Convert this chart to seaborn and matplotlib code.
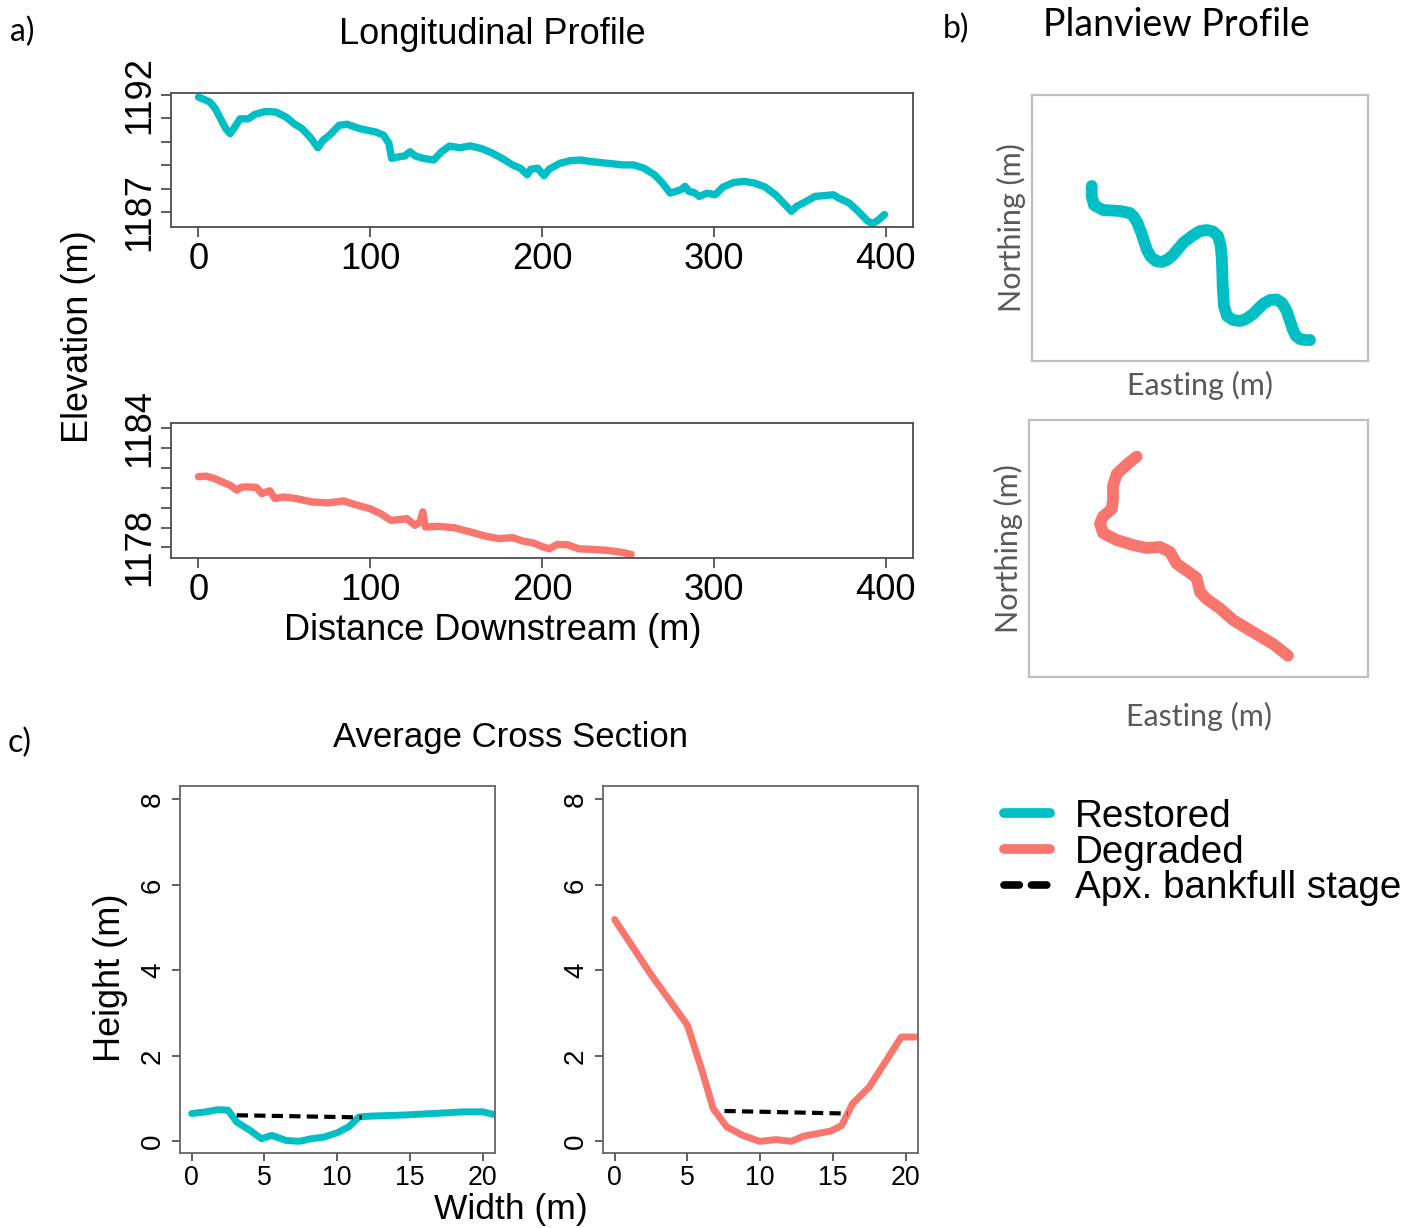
import numpy as np
import pandas as pd
import matplotlib
matplotlib.use("Agg")
import matplotlib.pyplot as plt
import seaborn as sns
from matplotlib import font_manager as fm
from matplotlib.lines import Line2D

# ---------------- data ----------------
# a) longitudinal profiles
rest_dist = [0, 3.7, 6.7, 9.8, 12.9, 15.9, 18.4, 20.5, 24.2, 29.1, 32.8, 38.9, 45.0, 51.1, 55.7,
             60.3, 64.9, 69.5, 72.6, 76.3, 81.8, 86.4, 94.0, 103.2, 107.8, 110.9, 112.4, 117.0,
             120.1, 123.2, 126.2, 130.8, 137.0, 141.5, 146.1, 152.2, 158.3, 164.5, 170.6, 176.7,
             182.8, 187.4, 191.4, 193.5, 197.5, 201.2, 204.2, 210.4, 216.5, 222.7, 228.8, 238.0,
             247.2, 253.3, 259.4, 265.5, 270.1, 274.7, 277.8, 280.9, 283.3, 285.5, 288.5, 291.6,
             296.2, 300.8, 305.4, 311.5, 317.6, 323.7, 329.9, 336.0, 340.6, 345.2, 348.3, 352.8,
             359.0, 363.5, 369.7, 372.7, 378.9, 385.0, 389.6, 392.6, 395.7, 399.4]
rest_elev = [1191.89, 1191.78, 1191.68, 1191.40, 1190.97, 1190.55, 1190.34, 1190.55, 1190.97,
             1190.97, 1191.16, 1191.28, 1191.26, 1191.04, 1190.76, 1190.55, 1190.20, 1189.74,
             1190.06, 1190.27, 1190.69, 1190.74, 1190.55, 1190.41, 1190.27, 1189.92, 1189.29,
             1189.36, 1189.39, 1189.57, 1189.39, 1189.29, 1189.22, 1189.57, 1189.81, 1189.74,
             1189.82, 1189.71, 1189.53, 1189.29, 1189.01, 1188.87, 1188.59, 1188.83, 1188.87,
             1188.55, 1188.83, 1189.08, 1189.19, 1189.22, 1189.15, 1189.08, 1189.01, 1189.01,
             1188.87, 1188.59, 1188.24, 1187.81, 1187.88, 1187.96, 1188.10, 1187.88, 1187.84,
             1187.67, 1187.81, 1187.74, 1188.07, 1188.26, 1188.31, 1188.24, 1188.07, 1187.74,
             1187.39, 1187.04, 1187.25, 1187.42, 1187.67, 1187.70, 1187.74, 1187.60, 1187.39,
             1186.97, 1186.62, 1186.52, 1186.66, 1186.90]
degr_dist = [0, 4.6, 9.2, 13.8, 18.4, 22.4, 24.6, 27.6, 33.8, 36.9, 41.5, 44.5, 49.2, 56.8, 66.1,
             75.3, 84.5, 90.6, 99.8, 106.0, 112.1, 116.7, 121.3, 126.0, 129.0, 130.6, 132.1,
             139.8, 149.0, 158.2, 167.4, 175.1, 182.8, 188.9, 195.1, 199.7, 204.3, 208.9, 215.1,
             221.2, 228.9, 238.1, 245.8, 251.9]
degr_elev = [1181.56, 1181.59, 1181.47, 1181.30, 1181.13, 1180.88, 1181.02, 1181.05, 1181.02,
             1180.71, 1180.85, 1180.46, 1180.54, 1180.46, 1180.29, 1180.24, 1180.34, 1180.17,
             1179.95, 1179.70, 1179.36, 1179.40, 1179.45, 1179.11, 1179.28, 1179.79, 1179.03,
             1179.06, 1178.99, 1178.78, 1178.56, 1178.44, 1178.49, 1178.32, 1178.22, 1178.05,
             1177.93, 1178.15, 1178.13, 1177.93, 1177.90, 1177.85, 1177.76, 1177.65]

# b) planview (relative easting / northing, m)
rest_east = [59.7, 59.7, 62, 71, 88, 98, 102, 105.5, 109, 112, 115, 119, 124, 129.7, 135, 141,
             151, 160, 168, 175, 181, 186, 188.5, 189.7, 190.2, 190.7, 192, 195, 201, 208, 214,
             221, 231, 238, 244.7, 250, 254.7, 258, 261, 264, 268, 273, 278]
rest_north = [175, 165, 156, 151, 150, 148, 144, 138, 129, 120, 111, 104, 100, 99, 101, 106,
              118, 125, 130, 131, 129.5, 125, 116, 104, 92, 75, 55, 45, 41, 40, 42, 47, 57, 61,
              61.5, 58, 50, 40, 31, 25, 22, 21, 21]
degr_east = [107.7, 97.7, 87.7, 84, 84, 82.7, 74, 71, 74, 87.7, 104, 117.7, 131, 141, 147.7,
             161, 167.7, 171, 177.7, 191, 204, 224, 244, 259]
degr_north = [220.4, 212.4, 203, 191, 177, 168, 160.5, 153.4, 144, 137, 132, 129, 130, 125,
              113.3, 104, 99, 85, 78, 68.5, 57, 45, 33, 21.3]

# c) average cross sections
rest_w = [0, 1.0, 1.77, 2.5, 3.1, 4.0, 4.8, 5.5, 6.5, 7.4, 8.2, 9.1, 10.0, 10.8, 11.5, 12.3,
          14.9, 18.7, 20.0, 20.75]
rest_h = [0.65, 0.69, 0.74, 0.73, 0.45, 0.26, 0.06, 0.14, 0.02, 0.0, 0.06, 0.10, 0.20, 0.34,
          0.57, 0.59, 0.62, 0.69, 0.69, 0.63]
rest_bank_w = [3.1, 11.7]
rest_bank_h = [0.61, 0.56]
degr_w = [0, 2.44, 5.0, 6.0, 6.77, 7.7, 8.8, 9.96, 11.1, 12.15, 12.97, 14.85, 15.6, 16.35, 17.5,
          19.7, 20.7]
degr_h = [5.19, 3.93, 2.72, 1.66, 0.77, 0.34, 0.14, 0.0, 0.04, 0.0, 0.12, 0.24, 0.37, 0.88,
          1.27, 2.44, 2.44]
degr_bank_w = [7.55, 16.0]
degr_bank_h = [0.71, 0.65]

legend_labels = ["Restored", "Degraded", "Apx. bankfull stage"]

# ---------------- style ----------------
sns.set_theme(style="white")
plt.rcParams["font.family"] = ["Liberation Sans", "DejaVu Sans"]
for k in ("text.color", "axes.labelcolor", "xtick.color", "ytick.color"):
    plt.rcParams[k] = "black"
names = {f.name for f in fm.fontManager.ttflist}
if "Liberation Sans Narrow" in names:
    NARROW, NSCALE = "Liberation Sans Narrow", 1.0
else:
    NARROW, NSCALE = "Liberation Sans", 0.87
CAL = "Lato" if "Lato" in names else "DejaVu Sans"

TEAL = "#00BFC4"
SALMON = "#F8766D"
BOXC = "#4d4d4d"

W, H = 1426, 1228
fig = plt.figure(figsize=(W / 100, H / 100), dpi=100)
fig.patch.set_facecolor("white")


def add_ax(x0, y0, x1, y1):
    return fig.add_axes([x0 / W, 1 - y1 / H, (x1 - x0) / W, (y1 - y0) / H])


def r_style(ax):
    for s in ax.spines.values():
        s.set_color(BOXC)
        s.set_linewidth(1.3)
        s.set_visible(True)
    ax.tick_params(axis="both", direction="out", length=7, width=1.1, color="#333333",
                   left=True, bottom=True, labelcolor="black")


def ftext(x, y, s, **kw):
    fig.text(x / W, 1 - y / H, s, ha="center", va="center", **kw)


# ---- a) longitudinal ----
def long_panel(y0, y1, dist, elev, color, ylim, yticks):
    ax = add_ax(171, y0, 913, y1)
    df = pd.DataFrame({"d": dist, "e": elev})
    sns.lineplot(data=df, x="d", y="e", ax=ax, color=color, lw=5.3, estimator=None,
                 sort=False, solid_capstyle="round", solid_joinstyle="round")
    ax.set_xlim(-16, 416)
    ax.set_ylim(*ylim)
    ax.set_xticks([0, 100, 200, 300, 400])
    ax.set_xticklabels(["0", "100", "200", "300", "400"], fontsize=30 * NSCALE, family=NARROW)
    ax.set_yticks(yticks)
    labs = [str(t) if t in (yticks[0], yticks[-1]) else "" for t in yticks]
    ax.set_yticklabels(labs, fontsize=30 * NSCALE, family=NARROW, rotation=90, va="center")
    r_style(ax)
    ax.tick_params(axis="x", pad=3.5)
    ax.tick_params(axis="y", pad=3)
    ax.set_xlabel("")
    ax.set_ylabel("")
    return ax


long_panel(92.7, 227, rest_dist, rest_elev, TEAL, (1186.37, 1192.08), list(range(1187, 1193)))
long_panel(423.3, 558.3, degr_dist, degr_elev, SALMON, (1177.45, 1184.25), list(range(1178, 1185)))

ftext(492, 34, "Longitudinal Profile", fontsize=26)
ftext(78, 337, "Elevation (m)", fontsize=26, rotation=90)
ftext(493, 631, "Distance Downstream (m)", fontsize=26)
ftext(22, 32, "a)", fontsize=23, family=CAL)

# ---- b) planview ----
def plan_panel(x0, y0, x1, y1, east, north, color, xpad):
    ax = add_ax(x0, y0, x1, y1)
    df = pd.DataFrame({"E": east, "N": north})
    sns.lineplot(data=df, x="E", y="N", ax=ax, color=color, lw=8.5, estimator=None,
                 sort=False, solid_capstyle="round", solid_joinstyle="round")
    ax.set_xlim(0, x1 - x0)
    ax.set_ylim(0, y1 - y0)
    ax.set_xticks([])
    ax.set_yticks([])
    for s in ax.spines.values():
        s.set_color("#bfbfbf")
        s.set_linewidth(1.6)
        s.set_visible(True)
    ax.set_xlabel("Easting (m)", fontsize=22, family=CAL, color="#595959", labelpad=xpad)
    ax.set_ylabel("Northing (m)", fontsize=22, family=CAL, color="#595959", labelpad=4)
    return ax


plan_panel(1032, 95, 1368, 361, rest_east, rest_north, TEAL, 7)
plan_panel(1029, 420, 1368, 677, degr_east, degr_north, SALMON, 18)
ftext(1176, 25, "Planview Profile", fontsize=27, family=CAL)
ftext(956, 29, "b)", fontsize=23, family=CAL)

# ---- c) cross sections ----
def xs_panel(x0, x1, w, h, bw, bh, color):
    ax = add_ax(x0, 785.7, x1, 1153.3)
    df = pd.DataFrame({"w": w, "h": h})
    sns.lineplot(data=df, x="w", y="h", ax=ax, color=color, lw=5, estimator=None,
                 sort=False, solid_joinstyle="round")
    dfb = pd.DataFrame({"w": bw, "h": bh})
    sns.lineplot(data=dfb, x="w", y="h", ax=ax, color="black", lw=3, estimator=None,
                 sort=False)
    ax.lines[-1].set_dashes((2.7, 1.5))
    ax.set_xlim(-0.8, 20.85)
    ax.set_ylim(-0.28, 8.32)
    ax.set_xticks([0, 5, 10, 15, 20])
    ax.set_xticklabels(["0", "5", "10", "15", "20"], fontsize=22 * NSCALE, family=NARROW)
    ax.set_yticks([0, 2, 4, 6, 8])
    ax.set_yticklabels(["0", "2", "4", "6", "8"], fontsize=20, rotation=90, va="center")
    r_style(ax)
    for s in ax.spines.values():
        s.set_color("#666666")
    ax.tick_params(axis="both", length=6)
    ax.tick_params(axis="x", pad=2.5)
    ax.tick_params(axis="y", pad=4)
    ax.set_xlabel("")
    ax.set_ylabel("")
    return ax


xs_panel(180, 495, rest_w, rest_h, rest_bank_w, rest_bank_h, TEAL)
xs_panel(603, 918, degr_w, degr_h, degr_bank_w, degr_bank_h, SALMON)
ftext(511, 737, "Average Cross Section", fontsize=25)
ftext(110, 978, "Height (m)", fontsize=26, rotation=90)
ftext(511, 1210, "Width (m)", fontsize=25.5)
ftext(20, 743, "c)", fontsize=23, family=CAL)

# ---- legend ----
handles = [
    Line2D([], [], color=TEAL, lw=7, solid_capstyle="round"),
    Line2D([], [], color=SALMON, lw=7, solid_capstyle="round"),
    Line2D([], [], color="black", lw=5.5, dashes=(2.0, 1.6), dash_capstyle="round"),
]
fig.legend(handles, legend_labels, loc="upper left", bbox_to_anchor=(1004 / W, 1 - 799 / H),
           frameon=False, fontsize=27.8, handlelength=1.19, handletextpad=0.64,
           labelspacing=-0.01, borderpad=0, borderaxespad=0)

fig.savefig("out.png", dpi=100, facecolor="white")
